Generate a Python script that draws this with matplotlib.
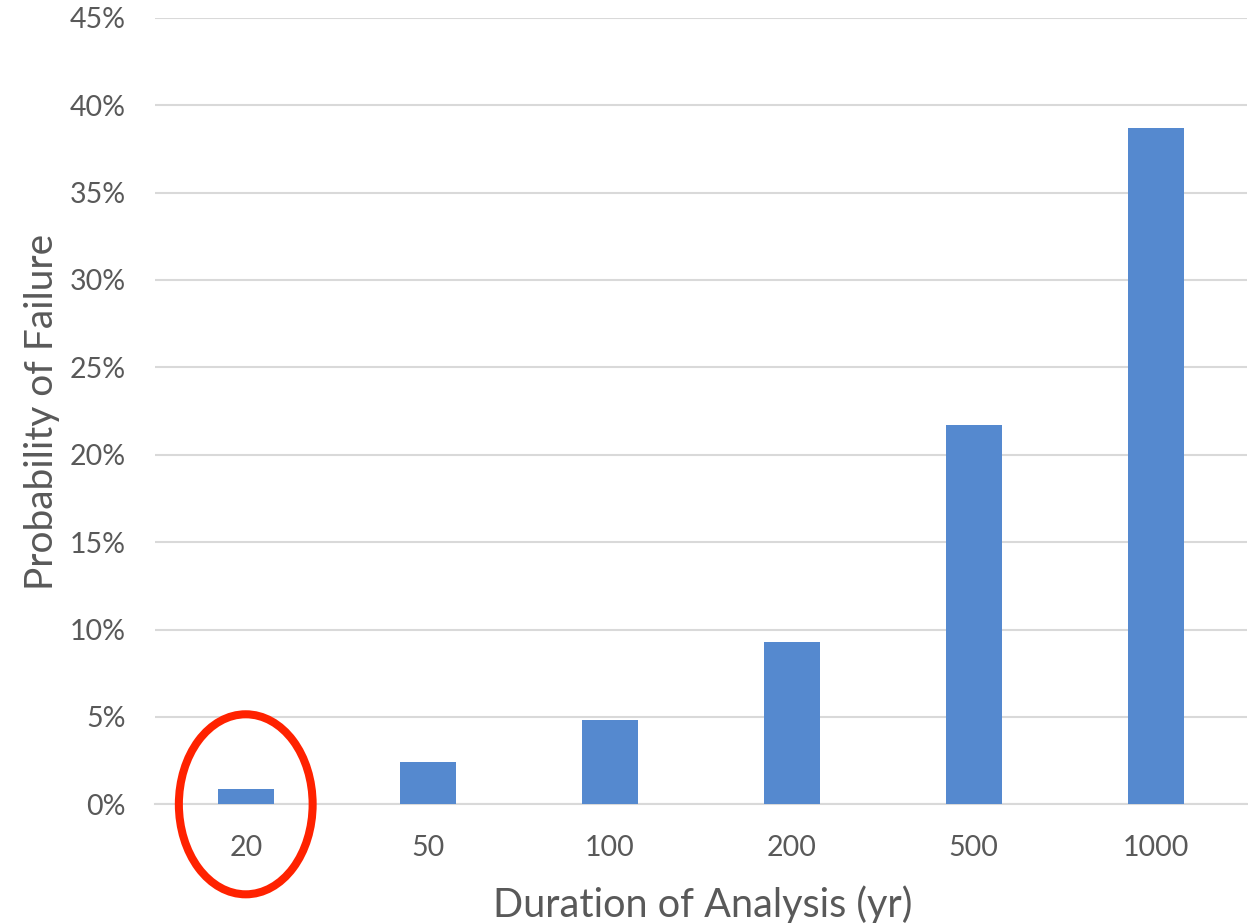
import matplotlib
matplotlib.use("Agg")
import matplotlib.pyplot as plt
from matplotlib.patches import Ellipse
from matplotlib.ticker import FuncFormatter, MultipleLocator

# Probability of failure for each analysis duration
durations = ["20", "50", "100", "200", "500", "1000"]
failure_pct = [0.9, 2.4, 4.8, 9.3, 21.7, 38.7]

plt.rcParams["font.family"] = ["Lato", "DejaVu Sans"]
text_color = "#595959"
bar_color = "#5589CF"
grid_color = "#D9D9D9"

fig = plt.figure(figsize=(12.48, 9.23), dpi=100)
ax = fig.add_axes([0.124, 0.1286, 0.875, 0.8522])

x = list(range(len(durations)))
ax.bar(x, failure_pct, width=0.31, color=bar_color, zorder=3)

ax.set_xlim(-0.5, len(durations) - 0.5)
ax.set_ylim(0, 45)
ax.yaxis.set_major_locator(MultipleLocator(5))
ax.yaxis.set_major_formatter(FuncFormatter(lambda v, _: f"{v:.0f}%"))
ax.set_xticks(x)
ax.set_xticklabels(durations)

ax.grid(axis="y", color=grid_color, linewidth=1.5, zorder=0)
for side in ["top", "right", "left"]:
    ax.spines[side].set_visible(False)
ax.spines["bottom"].set_color(grid_color)
ax.spines["bottom"].set_linewidth(1.5)

ax.tick_params(axis="both", length=0, colors=text_color, labelsize=20.5)
ax.tick_params(axis="y", pad=21)
ax.tick_params(axis="x", pad=22)

fig.text(0.5633, 0.0065, "Duration of Analysis (yr)", ha="center", va="baseline",
         fontsize=28.5, color=text_color)
fig.text(0.019, 0.554, "Probability of Failure", ha="left", va="center",
         rotation=90, fontsize=28, color=text_color)

# Highlight the shortest duration
ax.add_patch(Ellipse((0, 0), width=0.735, height=10.3, fill=False,
                     edgecolor="#FF2200", linewidth=5.8, clip_on=False, zorder=4))

fig.savefig("out.png", dpi=100)
